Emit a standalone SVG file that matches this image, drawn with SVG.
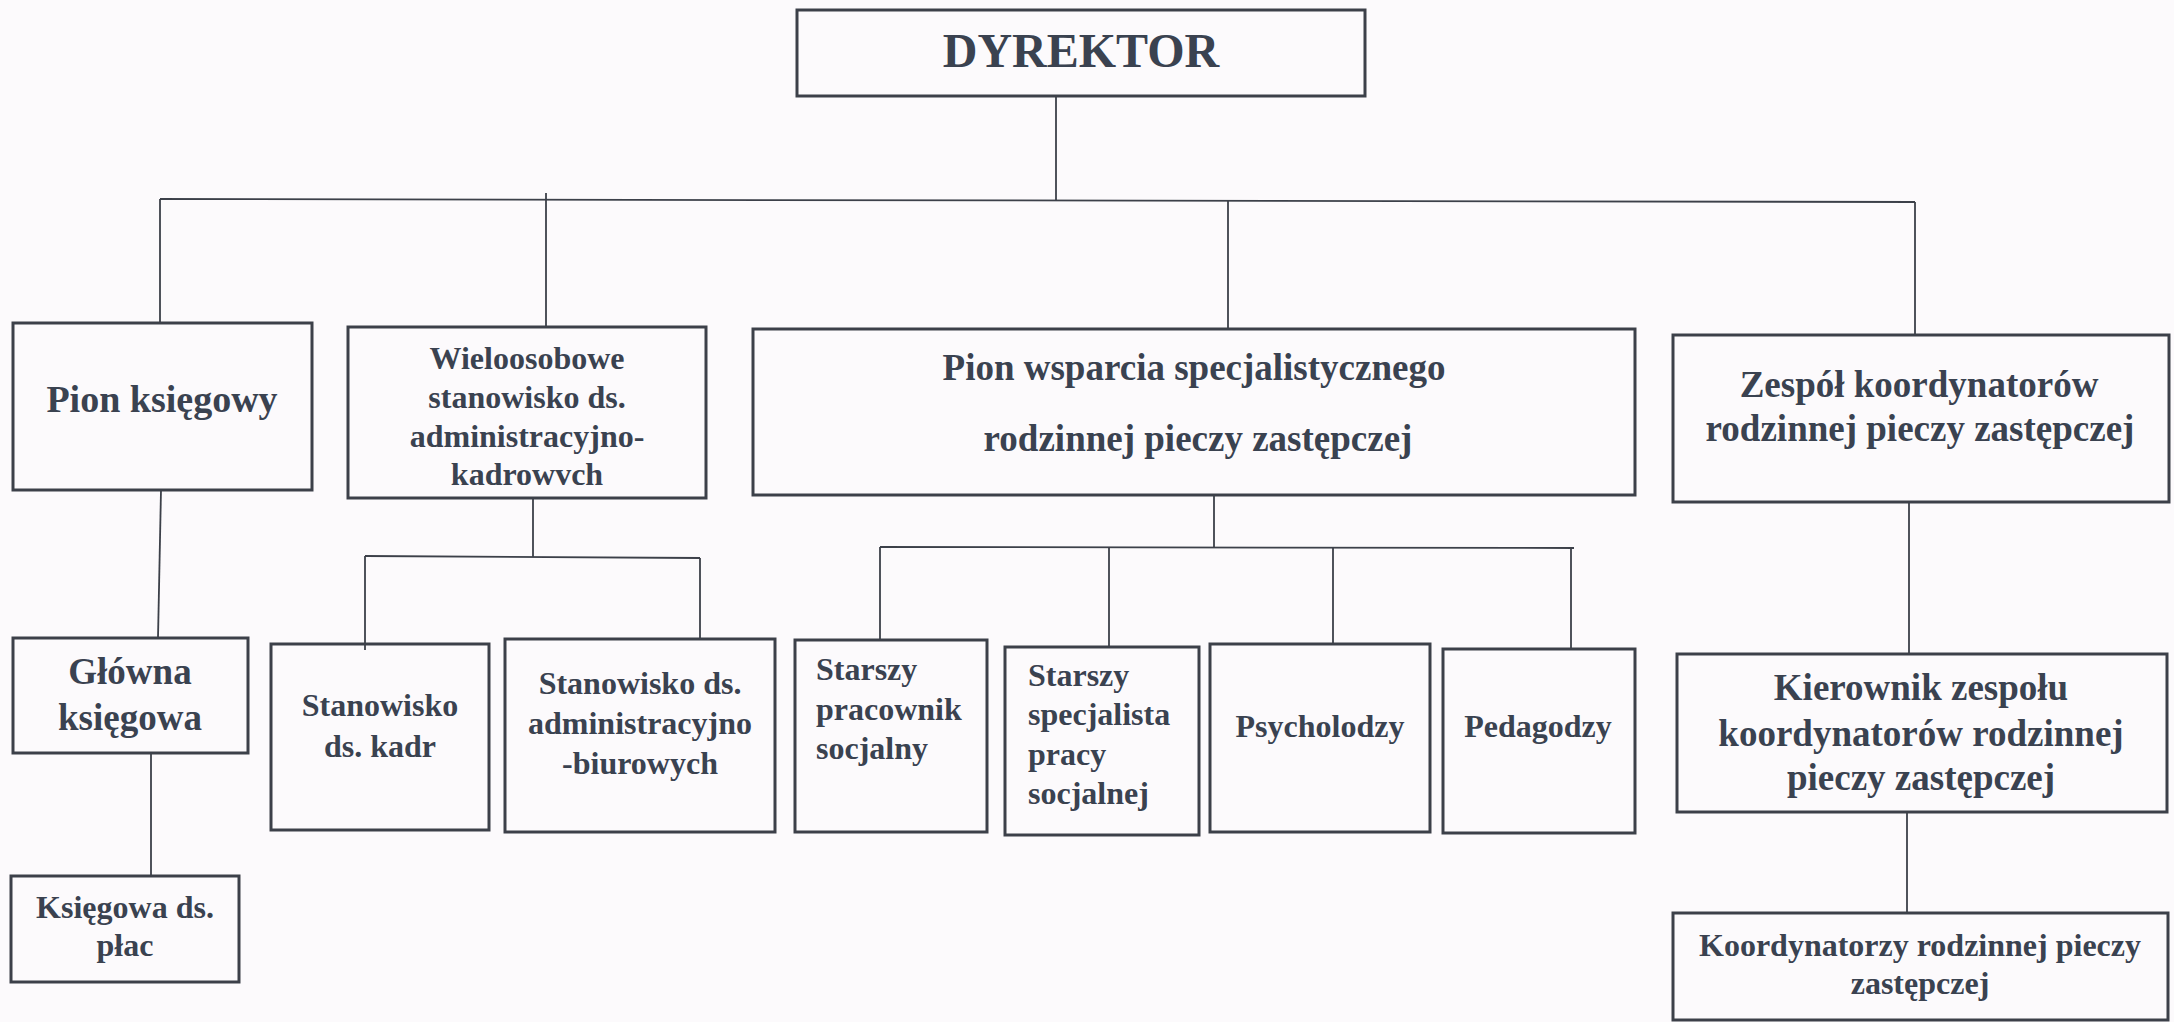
<svg xmlns="http://www.w3.org/2000/svg" width="2174" height="1022" viewBox="0 0 2174 1022">
<style>
.bg{fill:#fcfafc}
.box{fill:none;stroke:#3c4049;stroke-width:3}
.c{fill:none;stroke:#3c4049;stroke-width:1.8}
text{font-family:"Liberation Serif","Times New Roman",serif;font-weight:bold;fill:#3a4250}
.m{text-anchor:middle}
.f48{font-size:48px}
.f38{font-size:38px}
.f37{font-size:37px}
.f32{font-size:32px}
</style>
<rect class="bg" x="0" y="0" width="2174" height="1022"/>
<g id="connectors">
<line class="c" x1="1056" y1="96" x2="1056" y2="200"/>
<line class="c" x1="160" y1="199" x2="1915" y2="202"/>
<line class="c" x1="160" y1="199" x2="160" y2="323"/>
<line class="c" x1="546" y1="193" x2="546" y2="327"/>
<line class="c" x1="1228" y1="201" x2="1228" y2="330"/>
<line class="c" x1="1915" y1="202" x2="1915" y2="335"/>
<line class="c" x1="161" y1="490" x2="158" y2="638"/>
<line class="c" x1="151" y1="753" x2="151" y2="876"/>
<line class="c" x1="533" y1="498" x2="533" y2="557"/>
<line class="c" x1="365" y1="556" x2="700" y2="558"/>
<line class="c" x1="365" y1="556" x2="365" y2="650"/>
<line class="c" x1="700" y1="558" x2="700" y2="639"/>
<line class="c" x1="1214" y1="494" x2="1214" y2="547"/>
<line class="c" x1="880" y1="547" x2="1574" y2="548"/>
<line class="c" x1="880" y1="547" x2="880" y2="640"/>
<line class="c" x1="1109" y1="547" x2="1109" y2="647"/>
<line class="c" x1="1333" y1="548" x2="1333" y2="644"/>
<line class="c" x1="1571" y1="548" x2="1571" y2="649"/>
<line class="c" x1="1909" y1="502" x2="1909" y2="654"/>
<line class="c" x1="1907" y1="812" x2="1907" y2="913"/>
</g>
<g id="dyrektor">
<rect class="box" x="797" y="10" width="568" height="86"/>
<text class="m f48" x="1081" y="67">DYREKTOR</text>
</g>
<g id="pion-ksiegowy">
<rect class="box" x="13" y="323" width="299" height="167"/>
<text class="m f38" x="162" y="412">Pion księgowy</text>
</g>
<g id="wieloosobowe">
<rect class="box" x="348" y="327" width="358" height="171"/>
<text class="m f32" x="527"><tspan x="527" y="369">Wieloosobowe</tspan><tspan x="527" y="408">stanowisko ds.</tspan><tspan x="527" y="447">administracyjno-</tspan><tspan x="527" y="485">kadrowvch</tspan></text>
</g>
<g id="pion-wsparcia">
<rect class="box" x="753" y="329" width="882" height="166"/>
<text class="m f37" x="1196"><tspan x="1194" y="380">Pion wsparcia specjalistycznego</tspan><tspan x="1198" y="451">rodzinnej pieczy zastępczej</tspan></text>
</g>
<g id="zespol">
<rect class="box" x="1673" y="335" width="496" height="167"/>
<text class="m f37" x="1919"><tspan x="1919" y="397">Zespół koordynatorów</tspan><tspan x="1920" y="441">rodzinnej pieczy zastępczej</tspan></text>
</g>
<g id="glowna">
<rect class="box" x="13" y="638" width="235" height="115"/>
<text class="m f37" x="130"><tspan x="130" y="684">Główna</tspan><tspan x="130" y="730">księgowa</tspan></text>
</g>
<g id="ksiegowa-plac">
<rect class="box" x="11" y="876" width="228" height="106"/>
<text class="m f32" x="125"><tspan x="125" y="918">Księgowa ds.</tspan><tspan x="125" y="956">płac</tspan></text>
</g>
<g id="stanowisko-kadr">
<rect class="box" x="271" y="644" width="218" height="186"/>
<text class="m f32" x="380"><tspan x="380" y="716">Stanowisko</tspan><tspan x="380" y="757">ds. kadr</tspan></text>
</g>
<g id="stanowisko-admin">
<rect class="box" x="505" y="639" width="270" height="193"/>
<text class="m f32" x="640"><tspan x="640" y="694">Stanowisko ds.</tspan><tspan x="640" y="734">administracyjno</tspan><tspan x="640" y="774">-biurowych</tspan></text>
</g>
<g id="starszy-pracownik">
<rect class="box" x="795" y="640" width="192" height="192"/>
<text class="f32" x="816"><tspan x="816" y="680">Starszy</tspan><tspan x="816" y="720">pracownik</tspan><tspan x="816" y="759">socjalny</tspan></text>
</g>
<g id="starszy-specjalista">
<rect class="box" x="1005" y="647" width="194" height="188"/>
<text class="f32" x="1028"><tspan x="1028" y="686">Starszy</tspan><tspan x="1028" y="725">specjalista</tspan><tspan x="1028" y="765">pracy</tspan><tspan x="1028" y="804">socjalnej</tspan></text>
</g>
<g id="psycholodzy">
<rect class="box" x="1210" y="644" width="220" height="188"/>
<text class="m f32" x="1320" y="737">Psycholodzy</text>
</g>
<g id="pedagodzy">
<rect class="box" x="1443" y="649" width="192" height="184"/>
<text class="m f32" x="1538" y="737">Pedagodzy</text>
</g>
<g id="kierownik">
<rect class="box" x="1677" y="654" width="490" height="158"/>
<text class="m f37" x="1921"><tspan x="1921" y="700">Kierownik zespołu</tspan><tspan x="1921" y="746">koordynatorów rodzinnej</tspan><tspan x="1921" y="790">pieczy zastępczej</tspan></text>
</g>
<g id="koordynatorzy">
<rect class="box" x="1673" y="913" width="495" height="107"/>
<text class="m f32" x="1920"><tspan x="1920" y="956">Koordynatorzy rodzinnej pieczy</tspan><tspan x="1920" y="994">zastępczej</tspan></text>
</g>
</svg>
